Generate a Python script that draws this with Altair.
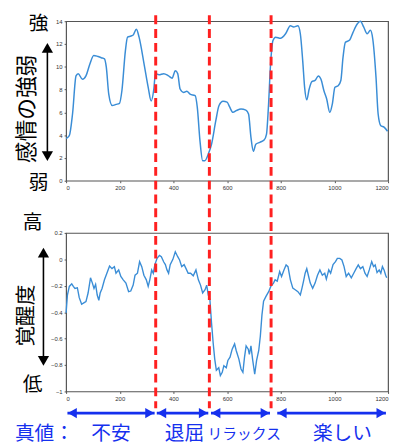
import altair as alt
import pandas as pd

# ---- data ----
top_x = [0,12,24,37,45,61,74,88,103,119,131,143,150,159,172,186,199,208,221,229,242,250,262,272,291,306,317,327,333,346,364,382,395,407,416,425,438,450,462,481,489,499,509,517,530,542,558,570,585,600,609,622,634,652,670,680,689,698,707,722,738,747,754,762,771,781,799,818,836,848,864,873,882,889,897,906,916,928,940,950,961,971,983,992,1002,1014,1024,1032,1041,1057,1069,1085,1097,1109,1122,1134,1143,1155,1163,1173,1185,1198]
top_y = [3.7,3.95,5.86,9.2,9.4,8.9,9.2,10.2,11.0,10.9,10.8,10.7,9.95,7.6,6.6,6.7,6.8,7.9,11.4,12.6,12.7,12.8,13.3,12.6,10.2,8.2,7.0,8.05,9.4,9.3,9.4,9.2,9.0,9.65,9.4,8.05,7.75,7.85,7.6,7.46,6.44,3.5,1.76,1.76,2.34,3.2,5.27,6.6,6.97,6.9,6.5,6.0,6.15,6.3,6.2,5.86,3.8,2.58,3.2,3.37,3.57,4.1,6.44,10.2,12.3,12.6,12.5,12.9,13.6,13.5,13.6,12.9,10.5,8.2,7.1,8.05,8.7,8.8,9.2,8.9,7.9,7.2,6.0,6.7,8.2,8.34,8.8,10.8,12.15,12.35,13.0,13.76,14.0,13.5,12.9,13.2,12.44,9.1,5.86,4.83,4.7,4.34]

bot_x = [0,5,12,21,27,33,42,49,58,66,74,82,91,98,104,110,116,122,127,134,143,152,162,171,180,186,196,204,213,223,233,241,250,257,266,274,282,290,299,306,312,319,325,331,339,348,355,364,370,376,382,388,398,407,416,423,431,440,447,455,464,474,484,493,501,509,518,524,530,536,542,548,554,560,569,575,582,588,597,603,611,619,628,634,644,652,659,665,671,679,683,689,695,703,710,718,724,730,736,745,755,763,773,779,787,796,803,812,820,827,836,845,854,864,873,879,885,891,897,904,910,919,928,937,946,955,964,970,979,986,995,1004,1011,1020,1028,1036,1044,1053,1063,1072,1081,1089,1097,1106,1114,1122,1130,1139,1146,1152,1159,1167,1173,1179,1185,1191,1195]
bot_y = [-0.405,-0.27,-0.205,-0.185,-0.205,-0.22,-0.215,-0.29,-0.34,-0.33,
         -0.32,-0.255,-0.14,-0.18,-0.22,-0.19,-0.27,-0.31,-0.255,-0.22,
         -0.155,-0.105,-0.05,-0.07,-0.055,-0.105,-0.08,-0.13,-0.155,-0.18,
         -0.245,-0.24,-0.195,-0.12,-0.105,-0.0175,-0.055,-0.12,-0.155,-0.205,
         -0.155,-0.08,-0.105,-0.04,0.0075,0.03,0.02,-0.02,-0.04,-0.08,
         -0.105,-0.04,0.0,0.0575,0.02,-0.005,-0.055,-0.04,-0.07,-0.105,
         -0.105,-0.125,-0.08,-0.155,-0.195,-0.255,-0.23,-0.195,-0.27,-0.305,
         -0.48,-0.63,-0.755,-0.84,-0.82,-0.88,-0.855,-0.805,-0.82,-0.765,
         -0.74,-0.68,-0.64,-0.69,-0.755,-0.83,-0.855,-0.74,-0.655,-0.68,
         -0.72,-0.655,-0.755,-0.87,-0.765,-0.69,-0.58,-0.42,-0.3175,-0.28,
         -0.245,-0.205,-0.18,-0.155,-0.165,-0.0925,-0.13,-0.08,-0.0425,-0.055,
         -0.155,-0.2175,-0.23,-0.245,-0.27,-0.22,-0.165,-0.105,-0.07,-0.13,
         -0.18,-0.22,-0.18,-0.12,-0.08,-0.12,-0.105,-0.15,-0.08,-0.105,
         -0.04,-0.0175,0.0075,0.0075,-0.005,-0.055,-0.13,-0.105,-0.14,-0.105,
         -0.07,-0.0425,-0.07,-0.055,-0.105,-0.13,-0.08,-0.0175,-0.055,-0.0425,
         -0.1,-0.08,-0.105,-0.055,-0.08,-0.12,-0.14]

x_ticks = [0, 200, 400, 600, 800, 1000, 1200]
top_ticks = [0, 2, 4, 6, 8, 10, 12, 14]
bot_ticks = [0.2, 0, -0.2, -0.4, -0.6, -0.8, -1]

boundaries = [334, 534, 764]
arrow_start = [5, 338, 540, 787]
arrow_end = [330, 530, 760, 1192]
truth_labels = ["不安", "退屈", "リラックス", "楽しい"]
truth_pos = [167, 441, 664, 1030]

assert len(top_x) == len(top_y) and len(bot_x) == len(bot_y)

W, H1, H2 = 327, 162, 161
JP = "Noto Sans CJK JP"
LINE = "#3a8dd6"
BLUE = "#1530ee"
RED = "#ff2020"

x_scale = alt.Scale(domain=[0, 1200], nice=False)
x_axis = alt.Axis(values=x_ticks, format="d", title=None)


def side_text(label, x, y, size=20, angle=0):
    return alt.Chart(pd.DataFrame({"label": [label]})).mark_text(
        font=JP, fontSize=size, angle=angle, color="black", baseline="middle", align="center"
    ).encode(text="label:N", x=alt.value(x), y=alt.value(y))


def double_arrow(x, y_top, y_bot):
    d = pd.DataFrame({"k": [0]})
    shaft = alt.Chart(d).mark_rule(color="black", strokeWidth=1.6).encode(
        x=alt.value(x), y=alt.value(y_top), y2=alt.value(y_bot))
    up = alt.Chart(d).mark_point(shape="triangle-up", filled=True, size=130, color="black", opacity=1).encode(
        x=alt.value(x), y=alt.value(y_top))
    down = alt.Chart(d).mark_point(shape="triangle-down", filled=True, size=130, color="black", opacity=1).encode(
        x=alt.value(x), y=alt.value(y_bot))
    return shaft + up + down


# ---- top panel ----
top_df = pd.DataFrame({"t": top_x, "v": top_y})
top_line = alt.Chart(top_df).mark_line(color=LINE, strokeWidth=1.5, interpolate="monotone").encode(
    x=alt.X("t:Q", scale=x_scale, axis=x_axis),
    y=alt.Y("v:Q", scale=alt.Scale(domain=[0, 14], nice=False),
            axis=alt.Axis(values=top_ticks, title=None)),
)
top = alt.layer(
    top_line,
    side_text("強", -28, 3),
    side_text("弱", -28, 164),
    side_text("感情の強弱", -40, 89, size=22, angle=270),
    double_arrow(-19, 27, 137),
).properties(width=W, height=H1)

# ---- bottom panel ----
bot_df = pd.DataFrame({"t": bot_x, "v": bot_y})
bot_line = alt.Chart(bot_df).mark_line(color=LINE, strokeWidth=1.4).encode(
    x=alt.X("t:Q", scale=x_scale, axis=x_axis),
    y=alt.Y("v:Q", scale=alt.Scale(domain=[-1, 0.2], nice=False),
            axis=alt.Axis(values=bot_ticks, format="~g", title=None)),
)
red = alt.Chart(pd.DataFrame({"b": boundaries})).mark_rule(
    color=RED, strokeWidth=3, strokeDash=[9, 5]
).encode(x=alt.X("b:Q", scale=x_scale), y=alt.value(-221), y2=alt.value(178))

arr_df = pd.DataFrame({"s": arrow_start, "e": arrow_end})
arr_shaft = alt.Chart(arr_df).mark_rule(color=BLUE, strokeWidth=3).encode(
    x=alt.X("s:Q", scale=x_scale), x2="e:Q", y=alt.value(183))
arr_left = alt.Chart(arr_df).mark_point(shape="triangle-left", filled=True, size=110,
                                        color=BLUE, opacity=1, xOffset=5).encode(
    x=alt.X("s:Q", scale=x_scale), y=alt.value(183))
arr_right = alt.Chart(arr_df).mark_point(shape="triangle-right", filled=True, size=110,
                                         color=BLUE, opacity=1, xOffset=-5).encode(
    x=alt.X("e:Q", scale=x_scale), y=alt.value(183))

lab_df = pd.DataFrame({"label": truth_labels, "p": truth_pos})
labels = alt.Chart(lab_df).mark_text(font=JP, color=BLUE, baseline="middle").encode(
    x=alt.X("p:Q", scale=x_scale), y=alt.value(204), text="label:N",
    size=alt.condition("datum.label == 'リラックス'", alt.value(15), alt.value(20)),
)
truth_title = alt.Chart(pd.DataFrame({"label": ["真値："]})).mark_text(
    font=JP, color=BLUE, fontSize=20, align="left", baseline="middle"
).encode(text="label:N", x=alt.value(-52), y=alt.value(204))

bottom = alt.layer(
    bot_line,
    side_text("高", -34, -10),
    side_text("低", -34, 155),
    side_text("覚醒度", -40, 84, size=21, angle=270),
    double_arrow(-23, 20, 130),
    red, arr_shaft, arr_left, arr_right, labels, truth_title,
).properties(width=W, height=H2)

chart = alt.vconcat(top, bottom, spacing=53, bounds="flush").properties(
    padding={"left": 6, "top": 1, "right": 0, "bottom": 0}
).configure_view(
    stroke="#555555", strokeWidth=1.2
).configure_axis(
    domain=False, grid=False, tickColor="#555555", tickSize=2, labelFontSize=6,
    labelColor="#333333", labelFont="Liberation Sans", labelPadding=2,
)

chart.save("out.html", embed_options={"renderer": "svg", "actions": False})
